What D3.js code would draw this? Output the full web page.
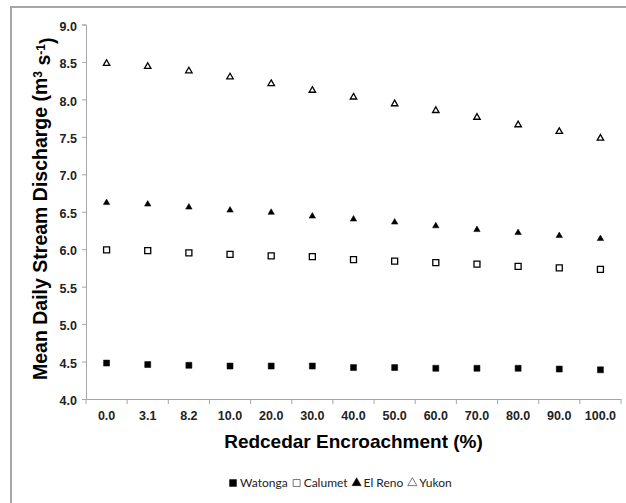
<!DOCTYPE html>
<html>
<head>
<meta charset="utf-8">
<script src="https://cdn.jsdelivr.net/npm/d3@7"></script>
<style>
  body { margin: 0; background: #fff; }
  svg { display: block; }
</style>
</head>
<body>
<svg id="chart" width="626" height="503"></svg>
<script>
// categories (redcedar encroachment, %)
var categories = ["0.0", "3.1", "8.2", "10.0", "20.0", "30.0", "40.0", "50.0", "60.0", "70.0", "80.0", "90.0", "100.0"];

// mean daily stream discharge per site
var watonga = [4.48, 4.46, 4.45, 4.44, 4.44, 4.44, 4.42, 4.42, 4.41, 4.41, 4.41, 4.40, 4.39];
var calumet = [5.99, 5.98, 5.95, 5.93, 5.91, 5.90, 5.86, 5.84, 5.82, 5.80, 5.77, 5.75, 5.73];
var elReno  = [6.62, 6.60, 6.56, 6.52, 6.49, 6.44, 6.40, 6.36, 6.31, 6.26, 6.22, 6.18, 6.14];
var yukon   = [8.48, 8.44, 8.38, 8.30, 8.21, 8.12, 8.03, 7.94, 7.85, 7.76, 7.66, 7.57, 7.48];

var yTicks = [4.0, 4.5, 5.0, 5.5, 6.0, 6.5, 7.0, 7.5, 8.0, 8.5, 9.0];

var series = [
    {name: "Watonga", values: watonga, symbol: d3.symbolSquare,   filled: true},
    {name: "Calumet", values: calumet, symbol: d3.symbolSquare,   filled: false},
    {name: "El Reno", values: elReno,  symbol: d3.symbolTriangle, filled: true},
    {name: "Yukon",   values: yukon,   symbol: d3.symbolTriangle, filled: false}
];

var FONT = "'Liberation Sans', Arial, sans-serif";

var svg = d3.select("#chart"),
    margin = {top: 24.5, right: 5, bottom: 104, left: 86},
    width = +svg.attr("width") - margin.left - margin.right,
    height = +svg.attr("height") - margin.top - margin.bottom;

// outer chart frame (right and bottom edges fall outside the picture)
svg.append("rect")
    .attr("x", 11).attr("y", 7)
    .attr("width", 700).attr("height", 600)
    .attr("fill", "none")
    .attr("stroke", "#a6a6a6")
    .attr("stroke-width", 2);

var group = svg.append("g").attr("transform", "translate(" + margin.left + "," + margin.top + ")");

var xscale = d3.scaleBand()
    .domain(categories)
    .range([0, width]);

var yscale = d3.scaleLinear()
    .domain([4, 9])
    .range([height, 0]);

// axes
var xAxis = d3.axisBottom(xscale).tickSize(0).tickPadding(12);
var gx = group.append("g")
    .attr("class", "x_axis")
    .attr("transform", "translate(0," + height + ")")
    .call(xAxis);
gx.select(".domain").attr("stroke", "#a6a6a6");
// excel-style ticks between categories
gx.selectAll(".sep")
    .data(d3.range(categories.length + 1))
    .enter().append("line")
    .attr("class", "sep")
    .attr("x1", function(i) { return i * xscale.step(); })
    .attr("x2", function(i) { return i * xscale.step(); })
    .attr("y1", 0).attr("y2", 5)
    .attr("stroke", "#a6a6a6");
gx.selectAll("text")
    .attr("font-family", FONT)
    .attr("font-weight", "bold")
    .attr("font-size", 12.5)
    .attr("fill", "#222");

var yAxis = d3.axisLeft(yscale).tickValues(yTicks).tickFormat(d3.format(".1f")).tickSize(4).tickPadding(5);
var gy = group.append("g")
    .attr("class", "y_axis")
    .call(yAxis);
gy.select(".domain").attr("stroke", "#a6a6a6");
gy.selectAll(".tick line").attr("stroke", "#a6a6a6");
gy.selectAll("text")
    .attr("font-family", FONT)
    .attr("font-weight", "bold")
    .attr("font-size", 12.5)
    .attr("fill", "#222")
    .attr("dy", "0.45em");

// points
series.forEach(function(s) {
    group.append("g")
        .selectAll("path")
        .data(s.values)
        .enter().append("path")
        .attr("transform", function(d, i) {
            return "translate(" + (xscale(categories[i]) + xscale.bandwidth() / 2) + "," + yscale(d) + ")";
        })
        .attr("d", d3.symbol().type(s.symbol).size(s.symbol === d3.symbolSquare ? 36 : 18))
        .attr("fill", s.filled ? "#000" : "#fff")
        .attr("stroke", "#000")
        .attr("stroke-width", s.filled ? 0.5 : 1.3);
});

// axis titles
var yTitle = svg.append("text")
    .attr("transform", "translate(47," + (margin.top + height / 2 - 3) + ") rotate(-90)")
    .attr("text-anchor", "middle")
    .attr("font-family", FONT)
    .attr("font-weight", "bold")
    .attr("font-size", 19.5)
    .attr("fill", "#000");
yTitle.append("tspan").text("Mean Daily Stream Discharge (m");
yTitle.append("tspan").attr("dy", "-0.45em").attr("font-size", 12).text("3");
yTitle.append("tspan").attr("dy", "0.45em").text(" s");
yTitle.append("tspan").attr("dy", "-0.45em").attr("font-size", 12).text("-1");
yTitle.append("tspan").attr("dy", "0.45em").text(")");

svg.append("text")
    .attr("x", margin.left + width / 2)
    .attr("y", 448)
    .attr("text-anchor", "middle")
    .attr("font-family", FONT)
    .attr("font-weight", "bold")
    .attr("font-size", 19)
    .attr("fill", "#000")
    .text("Redcedar Encroachment (%)");

// legend
var legend = svg.append("g")
    .attr("font-family", "Lato, sans-serif")
    .attr("font-size", 12)
    .attr("fill", "#222");
var lx = 229;
series.forEach(function(s) {
    legend.append("path")
        .attr("transform", "translate(" + (lx + 4) + ",483)")
        .attr("d", d3.symbol().type(s.symbol).size(s.symbol === d3.symbolSquare ? 48 : 36))
        .attr("fill", s.filled ? "#000" : "#fff")
        .attr("stroke", s.filled ? "#000" : "#555")
        .attr("stroke-width", s.filled ? 0.5 : 0.8);
    var t = legend.append("text")
        .attr("x", lx + 11)
        .attr("y", 487)
        .text(s.name);
    lx += 11 + t.node().getComputedTextLength() + 5;
});
</script>
</body>
</html>
